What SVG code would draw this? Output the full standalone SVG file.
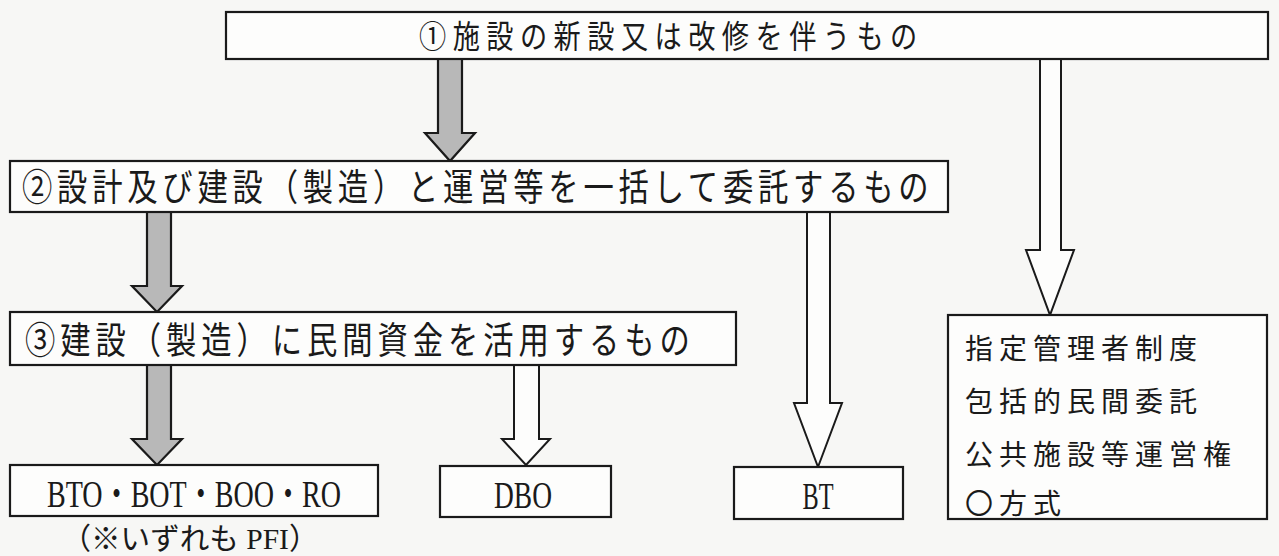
<svg xmlns="http://www.w3.org/2000/svg" width="1279" height="556" viewBox="0 0 1279 556">
<style>
.box{fill:#fdfdfc;stroke:#1a1a1a;stroke-width:2.2}
.jp{font-family:"Noto Sans CJK JP","Noto Sans CJK SC",sans-serif;fill:#1a1a1a}
.lat{font-family:"Liberation Serif","Noto Sans CJK JP",serif;fill:#1a1a1a}
.gray{fill:#b8b8b8;stroke:#1a1a1a;stroke-width:2.2;stroke-linejoin:miter}
.hollow{fill:#fdfdfc;stroke:#1a1a1a;stroke-width:2;stroke-linejoin:miter}
</style>
<rect x="0" y="0" width="1279" height="556" fill="#f7f7f5"/>
<g id="connectors">
<polygon class="gray" points="438,59 462,59 462,133 475,133 450,161 425,133 438,133"/>
<polygon class="gray" points="147,212 171,212 171,286 182,286 157,312 132,286 147,286"/>
<polygon class="gray" points="147,365 171,365 171,439 182,439 157,465 132,439 147,439"/>
<polygon class="hollow" points="1040,59 1061,59 1061,250 1074,250 1050,315 1026,250 1040,250"/>
<polygon class="hollow" points="807,212 830,212 830,403 842,403 818,467 794,403 807,403"/>
<polygon class="hollow" points="514,365 539,365 539,439 550,439 526,465 502,439 514,439"/>
</g>
<g id="node1">
<rect class="box" x="226" y="12" width="1042" height="47"/>
<text class="jp" transform="translate(419,48) scale(0.85,1)" font-size="32" letter-spacing="7.6">①施設の新設又は改修を伴うもの</text>
</g>
<g id="node2">
<rect class="box" x="10" y="161" width="938" height="51"/>
<text class="jp" transform="translate(22,201) scale(0.82,1)" font-size="37" letter-spacing="5.8">②設計及び建設（製造）と運営等を一括して委託するもの</text>
</g>
<g id="node3">
<rect class="box" x="10" y="312" width="726" height="53"/>
<text class="jp" transform="translate(25,354) scale(0.82,1)" font-size="37" letter-spacing="6">③建設（製造）に民間資金を活用するもの</text>
</g>
<g id="node4">
<rect class="box" x="10" y="465" width="368" height="51"/>
<text class="lat" x="194" y="507" font-size="38" text-anchor="middle" textLength="294" lengthAdjust="spacingAndGlyphs">BTO・BOT・BOO・RO</text>
<text class="lat" x="190" y="549" font-size="30" text-anchor="middle" textLength="257" lengthAdjust="spacingAndGlyphs">（※いずれも PFI）</text>
</g>
<g id="node5">
<rect class="box" x="440" y="466" width="171" height="51"/>
<text class="lat" x="523" y="508" font-size="38" text-anchor="middle" textLength="58" lengthAdjust="spacingAndGlyphs">DBO</text>
</g>
<g id="node6">
<rect class="box" x="734" y="467" width="169" height="52"/>
<text class="lat" x="818" y="509" font-size="38" text-anchor="middle" textLength="31" lengthAdjust="spacingAndGlyphs">BT</text>
</g>
<g id="node7">
<rect class="box" x="948" y="315" width="319" height="204"/>
<text class="jp" x="965" y="359" font-size="28" letter-spacing="6">指定管理者制度</text>
<text class="jp" x="965" y="412" font-size="28" letter-spacing="6">包括的民間委託</text>
<text class="jp" x="965" y="465" font-size="28" letter-spacing="6">公共施設等運営権</text>
<text class="jp" x="965" y="514" font-size="28" letter-spacing="6">〇方式</text>
</g>
</svg>
